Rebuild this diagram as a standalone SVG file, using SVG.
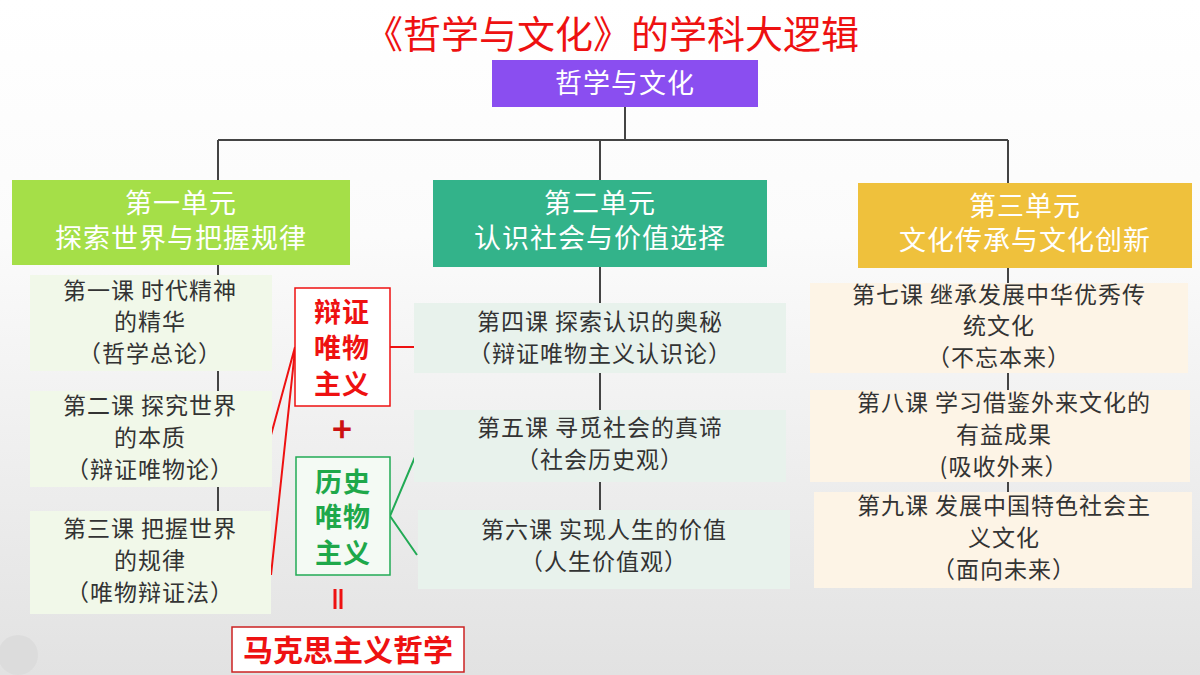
<svg xmlns="http://www.w3.org/2000/svg" width="1200" height="675" viewBox="0 0 1200 675">
<defs>
<linearGradient id="bg" x1="0" y1="0" x2="0" y2="1">
<stop offset="0" stop-color="#ffffff"/><stop offset="0.35" stop-color="#fbfbfb"/><stop offset="1" stop-color="#e2e2e2"/>
</linearGradient>
</defs>
<style>
text{font-family:"Noto Sans CJK SC","Noto Sans",sans-serif;text-anchor:middle}
.unit{fill:#fff;font-size:27px;letter-spacing:1px}
.les{fill:#333;font-size:23px;letter-spacing:1px}
.lg{fill:#f1f8e9}.lm{fill:#e8f2ec}.lr{fill:#fdf4e6}
.big{font-size:27px;font-weight:bold;letter-spacing:1px}
.ln{stroke:#444;stroke-width:2;fill:none}
</style>
<rect width="1200" height="675" fill="url(#bg)"/>
<circle cx="18" cy="655" r="20" fill="#dcdcdc"/>
<text x="612" y="48" fill="#ee1111" font-size="38">《哲学与文化》的学科大逻辑</text>
<g id="connectors">
<path class="ln" d="M625 107V140M218 140H1008M218 140V180M600 140V180M1008 140V183"/>
<path class="ln" d="M218 265V511" stroke="#555"/>
<path class="ln" d="M600 267V510"/>
<path class="ln" d="M1008 268V492"/>
<path d="M295 347L271 435M295 350L271 575M390 347H414" stroke="#ee1111" stroke-width="2" fill="none"/>
<path d="M390 516L415 457M390 516L417 555" stroke="#22aa55" stroke-width="2" fill="none"/>
</g>
<g id="root"><rect x="492" y="60" width="266" height="47" fill="#8a4ef0"/><text x="625" y="93" class="unit">哲学与文化</text></g>
<g id="unit1"><rect x="12" y="180" width="338" height="85" fill="#a5df48"/><text x="181" y="213" class="unit">第一单元</text><text x="181" y="248" class="unit">探索世界与把握规律</text></g>
<g id="unit2"><rect x="433" y="180" width="334" height="87" fill="#33b38a"/><text x="600" y="213" class="unit">第二单元</text><text x="600" y="248" class="unit">认识社会与价值选择</text></g>
<g id="unit3"><rect x="858" y="183" width="334" height="85" fill="#efc13c"/><text x="1025" y="216" class="unit">第三单元</text><text x="1025" y="250" class="unit">文化传承与文化创新</text></g>
<g id="l1"><rect class="lg" x="30" y="275" width="242" height="96"/><text class="les" x="150" y="299">第一课  时代精神</text><text class="les" x="150" y="330">的精华</text><text class="les" x="150" y="362">（哲学总论）</text></g>
<g id="l2"><rect class="lg" x="30" y="391" width="242" height="96"/><text class="les" x="150" y="414">第二课  探究世界</text><text class="les" x="150" y="446">的本质</text><text class="les" x="150" y="478">（辩证唯物论）</text></g>
<g id="l3"><rect class="lg" x="30" y="511" width="241" height="103"/><text class="les" x="150" y="537">第三课  把握世界</text><text class="les" x="150" y="569">的规律</text><text class="les" x="150" y="601">（唯物辩证法）</text></g>
<g id="dia"><rect x="295" y="288" width="95" height="118" fill="#fff" stroke="#ee1111" stroke-width="1.5"/><text class="big" fill="#ee1111" x="342" y="322">辩证</text><text class="big" fill="#ee1111" x="342" y="358">唯物</text><text class="big" fill="#ee1111" x="342" y="394">主义</text></g>
<text x="342" y="442" fill="#cc1111" font-size="34" font-weight="bold">+</text>
<g id="his"><rect x="296" y="457" width="94" height="118" fill="#f4faf4" stroke="#22aa55" stroke-width="1.5"/><text class="big" fill="#1ea84a" x="343" y="492">历史</text><text class="big" fill="#1ea84a" x="343" y="527">唯物</text><text class="big" fill="#1ea84a" x="343" y="563">主义</text></g>
<path d="M335 589V609M341 589V609" stroke="#ee1111" stroke-width="3"/>
<g id="marx"><rect x="232" y="627" width="232" height="45" fill="#fff" stroke="#cc2222" stroke-width="1.5"/><text x="348" y="661" fill="#ee1111" font-size="30" font-weight="bold">马克思主义哲学</text></g>
<g id="l4"><rect class="lm" x="414" y="303" width="372" height="70"/><text class="les" x="600" y="330">第四课  探索认识的奥秘</text><text class="les" x="600" y="362">（辩证唯物主义认识论）</text></g>
<g id="l5"><rect class="lm" x="414" y="410" width="372" height="72"/><text class="les" x="600" y="436">第五课  寻觅社会的真谛</text><text class="les" x="600" y="468">（社会历史观）</text></g>
<g id="l6"><rect class="lm" x="418" y="510" width="372" height="79"/><text class="les" x="604" y="538">第六课  实现人生的价值</text><text class="les" x="604" y="570">（人生价值观）</text></g>
<g id="l7"><rect class="lr" x="810" y="283" width="378" height="90"/><text class="les" x="999" y="303">第七课  继承发展中华优秀传</text><text class="les" x="999" y="334">统文化</text><text class="les" x="999" y="366">（不忘本来）</text></g>
<g id="l8"><rect class="lr" x="810" y="390" width="380" height="92"/><text class="les" x="1004" y="411">第八课  学习借鉴外来文化的</text><text class="les" x="1004" y="443">有益成果</text><text class="les" x="1004" y="475">(吸收外来）</text></g>
<g id="l9"><rect class="lr" x="814" y="492" width="378" height="96"/><text class="les" x="1004" y="514">第九课  发展中国特色社会主</text><text class="les" x="1004" y="546">义文化</text><text class="les" x="1004" y="578">（面向未来）</text></g>
</svg>
